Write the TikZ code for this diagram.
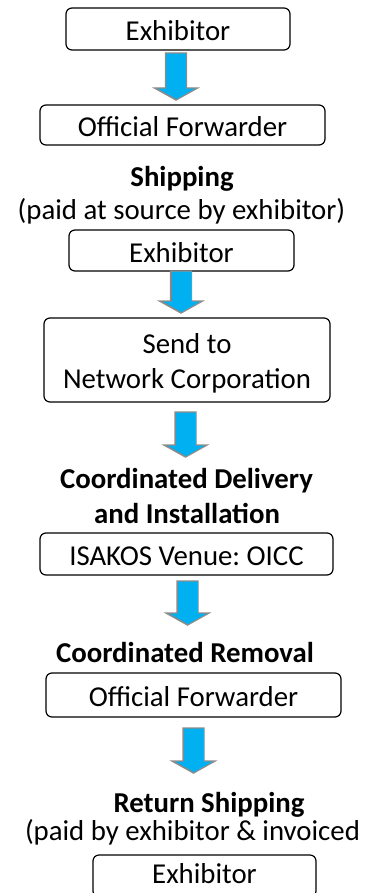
\documentclass[tikz,border=0pt]{standalone}
\usepackage{fontspec}
\setmainfont{Carlito}
\frenchspacing
\usetikzlibrary{calc}
\definecolor{arrowfill}{HTML}{00B0F0}
\definecolor{arrowline}{HTML}{8C8C8C}
\tikzset{
  stagebox/.style={draw=black, line width=1.2pt, rounded corners=6pt, inner sep=0pt,
    font=\fontsize{28.8}{35}\selectfont, text height=23pt, text depth=0pt, align=center},
  heading/.style={anchor=base, inner sep=0pt, font=\fontsize{28.8}{35}\selectfont\bfseries},
  note/.style={anchor=base, inner sep=0pt, font=\fontsize{28.8}{35}\selectfont},
  flowarrow/.style={draw=arrowline, fill=arrowfill, line width=1.4pt, line join=miter}
}
% block arrow from a start point (top of the shaft) down to its tip
\newcommand\flowarrow[2]{%
  \draw[flowarrow] ($(#1)+(-10.5,0)$) -- ($(#2)+(-10.5,-12)$) -- ($(#2)+(-21.5,-12)$)
    -- (#2) -- ($(#2)+(21.5,-12)$) -- ($(#2)+(10.5,-12)$) -- ($(#1)+(10.5,0)$) -- cycle;}
\begin{document}
\begin{tikzpicture}[x=1pt, y=-1pt]
\useasboundingbox (0,0) rectangle (377,893);

% stages
\node[stagebox, minimum width=224pt, minimum height=42pt] (b1) at (178,29) {Exhibitor};
\node[stagebox, minimum width=285pt, minimum height=40pt] (b2) at (182.5,125) {Official Forwarder};
\node[heading] (t1) at (182,187) {Shipping};
\node[note] (t2) at (181.5,220) {(paid at source by exhibitor)};
\node[stagebox, minimum width=225pt, minimum height=41pt] (b3) at (181.5,250.5) {Exhibitor};
\node[draw=black, line width=1.2pt, rounded corners=6pt, minimum width=286pt, minimum height=84pt] (b4) at (187,360) {};
\node[note] (b4a) at (187,353) {Send to};
\node[note] (b4b) at (187,388) {Network Corporation};
\node[heading] (t3) at (186.5,488) {Coordinated Delivery};
\node[heading] (t4) at (187,523) {and Installation};
\node[stagebox, minimum width=293pt, minimum height=42pt] (b5) at (186.5,554) {ISAKOS Venue: OICC};
\node[heading] (t5) at (185,662) {Coordinated Removal};
\node[stagebox, minimum width=295pt, minimum height=44pt] (b6) at (193.5,695) {Official Forwarder};
\node[heading] (t6) at (209,812) {Return Shipping};
\node[note] (t7) at (192.5,840) {(paid by exhibitor \& invoiced};
\node[stagebox, minimum width=223pt, minimum height=42pt, text depth=9pt] (b7) at (204.5,876) {Exhibitor};

% arrows between stages
\coordinate (a1s) at (176,53);    \coordinate (a1e) at (176,100);
\coordinate (a2s) at (181,271);   \coordinate (a2e) at (181,313);
\coordinate (a3s) at (185.5,412); \coordinate (a3e) at (185.5,457);
\coordinate (a4s) at (187.5,581); \coordinate (a4e) at (187.5,625);
\coordinate (a5s) at (193.5,728); \coordinate (a5e) at (193.5,773);
\flowarrow{a1s}{a1e}
\flowarrow{a2s}{a2e}
\flowarrow{a3s}{a3e}
\flowarrow{a4s}{a4e}
\flowarrow{a5s}{a5e}
\end{tikzpicture}
\end{document}
